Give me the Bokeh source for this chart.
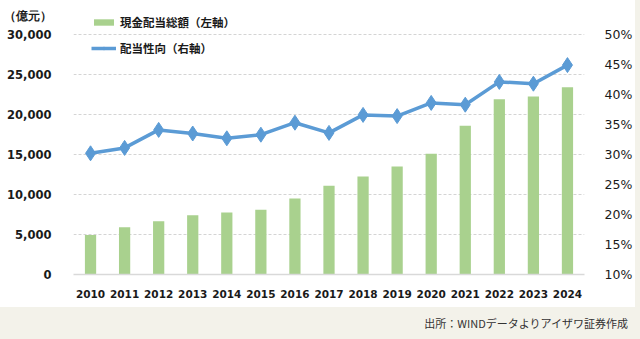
from bokeh.plotting import figure
from bokeh.models import (FactorRange, Range1d, LinearAxis, NumeralTickFormatter,
                          PrintfTickFormatter, FixedTicker, Legend, LegendItem, Div,
                          ColumnDataSource)
from bokeh.layouts import row, column
from bokeh.embed import file_html
from bokeh.resources import INLINE

years = ["2010", "2011", "2012", "2013", "2014", "2015", "2016", "2017",
         "2018", "2019", "2020", "2021", "2022", "2023", "2024"]
dividends = [4950, 5900, 6650, 7400, 7750, 8100, 9500, 11100,
             12250, 13500, 15100, 18600, 21900, 22250, 23400]   # 億元
payout = [30.2, 31.1, 34.1, 33.5, 32.7, 33.3, 35.3, 33.6,
          36.6, 36.4, 38.6, 38.3, 42.1, 41.8, 44.9]              # %
left_ticks = [0, 5000, 10000, 15000, 20000, 25000, 30000]
right_ticks = [10, 15, 20, 25, 30, 35, 40, 45, 50]
unit_text = "（億元）"

BAR = "#A9D18E"
LINE = "#5B9BD5"
BEIGE = "#F3F2EA"
TXT = "#1A1A1A"

# frame spans the axis area (240 px) plus 34 px of headroom for legend / unit label
AXIS_PX, FRAME_PX = 240, 274
scale = FRAME_PX / AXIS_PX
left_end = left_ticks[-1] * scale
right_end = right_ticks[0] + (right_ticks[-1] - right_ticks[0]) * scale
unit_pos = left_end - (left_ticks[-1] / AXIS_PX) * 15   # 15 px below the top edge

src = ColumnDataSource(dict(year=years, div=dividends, pay=payout))

p = figure(x_range=FactorRange(*years, range_padding=0), y_range=Range1d(0, left_end),
           width=635, height=307, output_backend="svg", toolbar_location=None,
           min_border_left=70, min_border_right=49, min_border_top=0, min_border_bottom=33)
p.extra_y_ranges = {"pct": Range1d(right_ticks[0], right_end)}
p.outline_line_color = None
p.background_fill_color = "white"
p.border_fill_color = "white"

bars = p.vbar(x="year", top="div", width=0.33, source=src, color=BAR, line_color=None)
ln = p.line(x="year", y="pay", source=src, y_range_name="pct", line_color=LINE, line_width=3.5)
mk = p.scatter(x="year", y="pay", source=src, y_range_name="pct", marker="diamond",
               size=15, color=LINE, line_color=LINE)

# left axis (unit label rides on an extra tick above the top value)
ya = p.yaxis[0]
ya.ticker = FixedTicker(ticks=left_ticks + [unit_pos])
ya.formatter = NumeralTickFormatter(format="0,0")
ya.major_label_overrides = {unit_pos: unit_text}
ya.axis_line_color = None
ya.major_tick_line_color = None
ya.minor_tick_line_color = None
ya.major_label_standoff = 16
ya.major_label_text_font = "DejaVu Sans"
ya.major_label_text_font_style = "bold"
ya.major_label_text_font_size = "11.5px"
ya.major_label_text_color = TXT

# right axis
ra = LinearAxis(y_range_name="pct", ticker=FixedTicker(ticks=right_ticks),
                formatter=PrintfTickFormatter(format="%d%%"))
ra.axis_line_color = None
ra.major_tick_line_color = None
ra.minor_tick_line_color = None
ra.major_label_standoff = 14
ra.major_label_text_font = "DejaVu Sans"
ra.major_label_text_font_size = "12.5px"
ra.major_label_text_color = TXT
p.add_layout(ra, "right")

# x axis
xa = p.xaxis[0]
xa.axis_line_color = "#D9D9D9"
xa.axis_line_width = 1.5
xa.major_tick_line_color = None
xa.minor_tick_line_color = None
xa.major_label_standoff = 9
xa.major_label_text_font = "DejaVu Sans"
xa.major_label_text_font_style = "bold"
xa.major_label_text_font_size = "10.5px"
xa.major_label_text_color = TXT

p.xgrid.grid_line_color = None
p.ygrid.ticker = FixedTicker(ticks=left_ticks[1:])
p.ygrid.grid_line_color = "#D4D4D4"
p.ygrid.grid_line_dash = "3 2"

legend = Legend(items=[LegendItem(label="現金配当総額（左軸）", renderers=[bars]),
                       LegendItem(label="配当性向（右軸）", renderers=[ln, mk])],
                location=(18, 216), orientation="vertical",
                glyph_width=25, glyph_height=8, label_height=20, label_standoff=4,
                spacing=6, padding=0, margin=0, border_line_color=None,
                background_fill_alpha=0,
                label_text_font="Noto Sans CJK JP", label_text_font_style="bold",
                label_text_font_size="11.5px", label_text_color=TXT)
p.add_layout(legend)

strip = Div(width=5, height=307, margin=0, styles={"background-color": BEIGE})
foot = Div(width=640, height=32, margin=0, text="出所：WINDデータよりアイザワ証券作成",
           styles={"background-color": BEIGE, "text-align": "right",
                   "line-height": "32px", "padding-right": "12px",
                   "box-sizing": "border-box",
                   "font-family": "'Noto Sans CJK JP'",
                   "font-size": "11px", "color": "#333333"})

layout = column(row(p, strip, spacing=0), foot, spacing=0)

open("out.html", "w").write(file_html(layout, INLINE))
